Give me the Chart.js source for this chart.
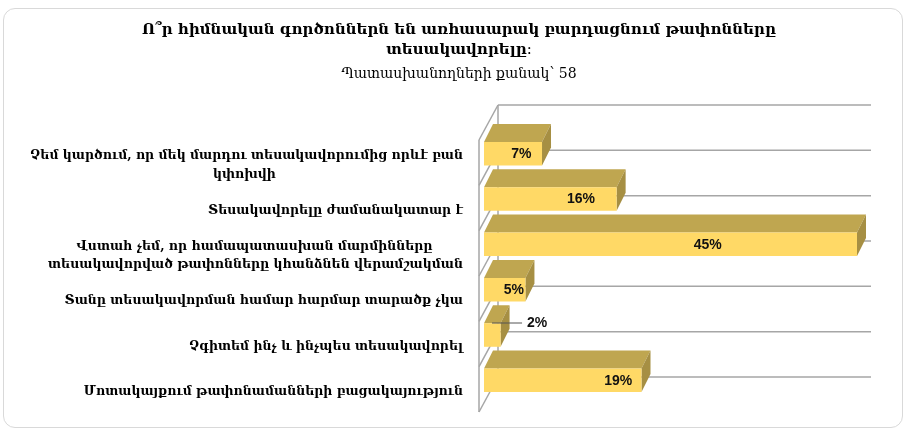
<!DOCTYPE html>
<html lang="hy">
<head>
<meta charset="utf-8">
<style>
html,body{margin:0;padding:0;background:#fff}
#wrap{position:relative;width:908px;height:430px;overflow:hidden}
#card{position:absolute;left:3px;top:8px;width:900px;height:420px;border:1px solid #d9d9d9;border-radius:12px;box-sizing:border-box}
canvas{position:absolute;left:0;top:0;filter:blur(0.4px)}
</style>
<script src="https://cdn.jsdelivr.net/npm/chart.js@4"></script>
</head>
<body>
<div id="wrap"><div id="card"></div><canvas id="c" width="908" height="430"></canvas></div>
<script>
const titleLines = ["Ո՞ր հիմնական գործոններն են առհասարակ բարդացնում թափոնները", "տեսակավորելը։"];
const subtitleText = "Պատասխանողների քանակ՝ 58";
const categories = [
  ["Չեմ կարծում, որ մեկ մարդու տեսակավորումից որևէ բան", "կփոխվի"],
  "Տեսակավորելը ժամանակատար է",
  ["Վստահ չեմ, որ համապատասխան մարմինները", "տեսակավորված թափոնները կհանձնեն վերամշակման"],
  "Տանը տեսակավորման համար հարմար տարածք չկա",
  "Չգիտեմ ինչ և ինչպես տեսակավորել",
  "Մոտակայքում թափոնամանների բացակայություն"
];
const values = [7, 16, 45, 5, 2, 19];
const labelAnchors = [4.5, 11.7, 27, 3.6, 6.4, 16.2];

const FRONT = '#FFD966', TOP = '#BFA650', SIDE = '#A68F43', GRID = '#a6a6a6';
const DEPTH_X = 9, DEPTH_Y = -18, SHIFT_X = 5, SHIFT_Y = -11.5, BACK_X = 19, BACK_Y = -35, WALL_Y = -2.5;
const tickFont = 'bold 12.5px "DejaVu Serif"';

const measure = document.createElement('canvas').getContext('2d');
measure.font = tickFont;
function centreLines(lines) {
  if (!Array.isArray(lines)) return lines;
  const widths = lines.map(l => measure.measureText(l).width);
  const maxW = Math.max(...widths);
  const sp = measure.measureText('\u00A0').width;
  return lines.map((l, i) => l + '\u00A0'.repeat(Math.round((maxW - widths[i]) / 2 / sp)));
}

const box3d = {
  id: 'box3d',
  beforeDraw(chart) { chart.scales.y.left = 0; },
  beforeDatasetsDraw(chart) {
    const { ctx, scales: { x, y } } = chart;
    ctx.save();
    ctx.translate(0, WALL_Y);
    ctx.strokeStyle = GRID; ctx.lineWidth = 1.5;
    const L = x.left, R = x.right;
    const line = (a, b, c, d) => { ctx.beginPath(); ctx.moveTo(a, b); ctx.lineTo(c, d); ctx.stroke(); };
    line(L, y.top, L, y.bottom);
    line(L + BACK_X, y.top + BACK_Y, L + BACK_X, y.bottom + BACK_Y);
    for (let i = 0; i <= categories.length; i++) {
      const p = y.getPixelForValue(i - 0.5);
      line(L, p, L + BACK_X, p + BACK_Y);
      line(L + BACK_X, p + BACK_Y, R + BACK_X, p + BACK_Y);
    }
    ctx.restore();
  },
  beforeDatasetDraw(chart) {
    const { ctx } = chart;
    ctx.save();
    ctx.translate(SHIFT_X, SHIFT_Y);
    chart.getDatasetMeta(0).data.forEach(el => {
      const { x, y, base, height } = el.getProps(['x', 'y', 'base', 'height'], true);
      const t = y - height / 2, b = y + height / 2;
      ctx.fillStyle = TOP;
      ctx.beginPath();
      ctx.moveTo(base, t); ctx.lineTo(base + DEPTH_X, t + DEPTH_Y);
      ctx.lineTo(x + DEPTH_X, t + DEPTH_Y); ctx.lineTo(x, t); ctx.closePath(); ctx.fill();
      ctx.fillStyle = SIDE;
      ctx.beginPath();
      ctx.moveTo(x, t); ctx.lineTo(x + DEPTH_X, t + DEPTH_Y);
      ctx.lineTo(x + DEPTH_X, b + DEPTH_Y); ctx.lineTo(x, b); ctx.closePath(); ctx.fill();
    });
  },
  afterDatasetDraw(chart) { chart.ctx.restore(); },
  afterDatasetsDraw(chart) {
    const { ctx, scales: { x } } = chart;
    ctx.save();
    ctx.font = 'bold 14px "Liberation Sans"';
    ctx.fillStyle = '#111'; ctx.textAlign = 'center'; ctx.textBaseline = 'middle';
    chart.getDatasetMeta(0).data.forEach((el, i) => {
      const lx = x.getPixelForValue(labelAnchors[i]) + SHIFT_X;
      const outside = labelAnchors[i] > values[i];
      const ly = el.y + SHIFT_Y + (outside ? -12 : 0.5);
      ctx.fillText(values[i] + '%', lx, ly);
      if (outside) {
        ctx.strokeStyle = '#555'; ctx.lineWidth = 1;
        ctx.beginPath(); ctx.moveTo(el.base + SHIFT_X + 8, ly); ctx.lineTo(lx - 15, ly); ctx.stroke();
      }
    });
    ctx.restore();
  }
};

new Chart(document.getElementById('c'), {
  type: 'bar',
  data: { labels: categories, datasets: [{ data: values, backgroundColor: FRONT, categoryPercentage: 1, barPercentage: 0.52 }] },
  options: {
    indexAxis: 'y', responsive: false, animation: false,
    layout: { padding: { left: 66, right: 56, top: 0, bottom: 15.5 } },
    plugins: {
      legend: { display: false }, tooltip: { enabled: false },
      title: { display: true, text: titleLines, color: '#000', font: { family: 'DejaVu Serif', size: 15, weight: 'bold', lineHeight: 1.35 }, padding: { top: 20, bottom: 5 } },
      subtitle: { display: true, text: subtitleText, color: '#000', font: { family: 'DejaVu Serif', size: 14, lineHeight: 1.2 }, padding: { top: 0, bottom: 60.2 } }
    },
    scales: {
      x: { display: false, min: 0, max: 45 },
      y: {
        grid: { display: false, drawTicks: false }, border: { display: false },
        ticks: { color: '#000', font: { family: 'DejaVu Serif', size: 12.5, weight: 'bold', lineHeight: 1.5 }, padding: 16, autoSkip: false,
          callback(v) { return centreLines(categories[v]); } },
        afterFit(s) { s.width = 479 - 66; s.paddingTop = 0; s.paddingBottom = 0; }
      }
    }
  },
  plugins: [box3d]
});
</script>
</body>
</html>
